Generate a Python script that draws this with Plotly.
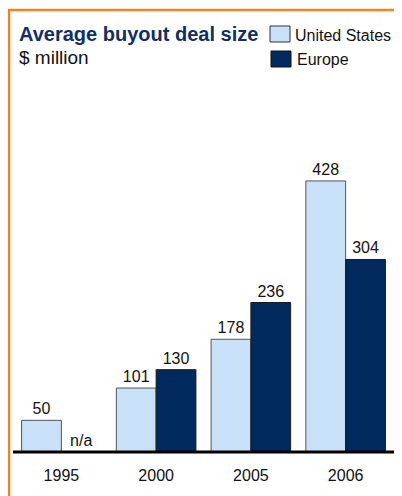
import plotly.graph_objects as go

years = ["1995", "2000", "2005", "2006"]
us_values = [50, 101, 178, 428]
europe_values = [None, 130, 236, 304]
series_names = ["United States", "Europe"]
title_text = "Average buyout deal size"
subtitle_text = "$ million"

OFF = 8  # page body margin
W, H = 402 - OFF, 496 - OFF
ML, MR, MT, MB = 6, 9, 64, 44
PW, PH = W - ML - MR, H - MT - MB

def px(x):
    return (x - OFF - ML) / PW

def py(y):
    return 1 - (y - OFF - MT) / PH

FONT = "Arial, 'Liberation Sans', sans-serif"
US_FILL = "#C8E0F8"
EU_FILL = "#002A5E"
NAVY = "#0F2F66"

us_text = [str(v) for v in us_values]
eu_y = [v if v is not None else 0 for v in europe_values]
eu_text = [str(v) if v is not None else "n/a" for v in europe_values]

fig = go.Figure()
fig.add_trace(go.Bar(
    x=years, y=us_values, name=series_names[0], text=us_text,
    textposition="outside", cliponaxis=False,
    textfont=dict(size=16, color="#111111", family=FONT),
    marker=dict(color=US_FILL, line=dict(color="#555555", width=1)),
    showlegend=False,
))
fig.add_trace(go.Bar(
    x=years, y=eu_y, name=series_names[1], text=eu_text,
    textposition="outside", cliponaxis=False,
    textfont=dict(size=16, color="#111111", family=FONT),
    marker=dict(color=EU_FILL, line=dict(color="#1a1a1a", width=1)),
    showlegend=False,
))

shapes = [
    # orange frame (top and left)
    dict(type="line", xref="paper", yref="paper", x0=px(8), x1=px(402), y0=py(10), y1=py(10),
         line=dict(color="#F5821F", width=2.5)),
    dict(type="line", xref="paper", yref="paper", x0=px(9), x1=px(9), y0=py(10), y1=py(496),
         line=dict(color="#F5821F", width=2.5)),
    # baseline
    dict(type="line", xref="paper", yref="paper", x0=px(13), x1=px(394), y0=py(452), y1=py(452),
         line=dict(color="#000000", width=3)),
    # legend boxes
    dict(type="rect", xref="paper", yref="paper", x0=px(270), x1=px(290), y0=py(26), y1=py(42),
         fillcolor=US_FILL, line=dict(color="#333333", width=1)),
    dict(type="rect", xref="paper", yref="paper", x0=px(271), x1=px(291), y0=py(51), y1=py(67),
         fillcolor=EU_FILL, line=dict(color="#111111", width=1)),
]

annotations = [
    dict(text="<b>" + title_text + "</b>", xref="paper", yref="paper", x=px(17), y=py(34),
         xanchor="left", yanchor="middle", showarrow=False,
         font=dict(size=20, color=NAVY, family=FONT)),
    dict(text=subtitle_text, xref="paper", yref="paper", x=px(17), y=py(57),
         xanchor="left", yanchor="middle", showarrow=False,
         font=dict(size=19, color="#111111", family=FONT)),
    dict(text=series_names[0], xref="paper", yref="paper", x=px(293), y=py(35),
         xanchor="left", yanchor="middle", showarrow=False,
         font=dict(size=16, color="#111111", family=FONT)),
    dict(text=series_names[1], xref="paper", yref="paper", x=px(295), y=py(59),
         xanchor="left", yanchor="middle", showarrow=False,
         font=dict(size=16, color="#111111", family=FONT)),
]

fig.update_layout(
    width=W, height=H,
    margin=dict(l=ML, r=MR, t=MT, b=MB, pad=0),
    paper_bgcolor="white", plot_bgcolor="white",
    barmode="group", bargap=0.16, bargroupgap=0,
    shapes=shapes, annotations=annotations,
    font=dict(family=FONT, size=16, color="#111111"),
)
fig.update_xaxes(type="category", range=[-0.5, 3.5], showgrid=False, showline=False,
                 ticks="", tickfont=dict(size=16, color="#111111", family=FONT), ticklabelstandoff=12)
fig.update_yaxes(range=[0, 600], visible=False, showgrid=False, zeroline=False)

fig.write_html("out.html")
